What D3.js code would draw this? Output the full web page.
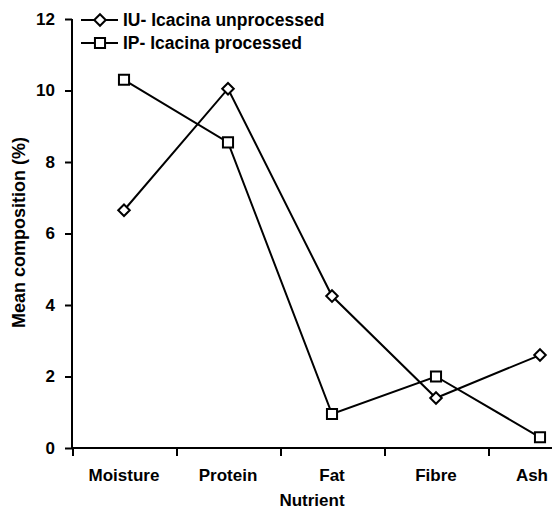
<!DOCTYPE html>
<meta charset="utf-8">
<html>
<head>
	<title>Mean composition by nutrient</title>
	<script type="text/javascript" src="https://cdn.jsdelivr.net/npm/d3@7"></script>
	<style>
		body { margin: 0; background: #fff; }
		text { font-family: "Liberation Sans", Arial, sans-serif; font-weight: bold; fill: #000; }
		.axis path, .axis line { stroke: #000; stroke-width: 2px; }
	</style>
</head>
<body>
	<div id="chart"></div>
	<script>
		// data
		var nutrients = ["Moisture", "Protein", "Fat", "Fibre", "Ash"];
		var unprocessed = [6.65, 10.05, 4.25, 1.4, 2.6];
		var processed = [10.3, 8.55, 0.95, 2.0, 0.3];
		var yTicks = [0, 2, 4, 6, 8, 10, 12];
		var seriesNames = ["IU- Icacina unprocessed", "IP- Icacina processed"];

		var w = 552, h = 510;
		var margin = { left: 72, top: 19, bottom: 62 };

		var svg = d3.select("#chart").append("svg")
			.attr("width", w).attr("height", h);

		// band scale, the last band runs off the right edge like the original
		var x = d3.scaleBand().domain(nutrients).range([margin.left, margin.left + 104 * 5]);
		var y = d3.scaleLinear().domain([0, 12]).range([h - margin.bottom, margin.top]);

		// x axis: ticks at band edges
		var gx = svg.append("g").attr("class", "axis")
			.attr("transform", "translate(0," + y(0) + ")");
		gx.append("line").attr("x1", margin.left - 1).attr("x2", w).attr("y1", 0).attr("y2", 0);
		gx.selectAll(".tk").data(nutrients).enter().append("line")
			.attr("x1", d => x(d) + 1).attr("x2", d => x(d) + 1)
			.attr("y1", 0).attr("y2", 8);
		gx.selectAll(".lbl").data(nutrients).enter().append("text")
			.attr("x", d => x(d) + x.bandwidth() / 2)
			.attr("y", 33)
			.attr("text-anchor", "middle")
			.style("font-size", "17px")
			.text(d => d)
			.each(function () {
				// keep labels inside the picture
				var len = this.getComputedTextLength();
				var cx = +d3.select(this).attr("x");
				if (cx + len / 2 > w - 4) d3.select(this).attr("x", w - 4 - len / 2);
			});

		// y axis
		var yAxis = d3.axisLeft(y).tickValues(yTicks).tickSize(7).tickPadding(10);
		var gy = svg.append("g").attr("class", "axis")
			.attr("transform", "translate(" + margin.left + ",0)")
			.call(yAxis);
		gy.select(".domain").attr("d", "M0," + y(12) + "V" + y(0));
		gy.selectAll("text").style("font-size", "17px").attr("font-family", null);

		svg.append("text")
			.attr("transform", "translate(25," + (y(6) - 1) + ") rotate(-90)")
			.attr("text-anchor", "middle")
			.style("font-size", "18px")
			.text("Mean composition (%)");

		svg.append("text")
			.attr("x", (margin.left + w) / 2)
			.attr("y", h - 4)
			.attr("text-anchor", "middle")
			.style("font-size", "17px")
			.text("Nutrient");

		var line = d3.line()
			.x((d, i) => x(nutrients[i]) + x.bandwidth() / 2)
			.y(d => y(d));

		var diamond = d3.symbol().type(d3.symbolDiamond2).size(85);
		var square = d3.symbol().type(d3.symbolSquare2).size(130);

		function drawSeries(vals, sym) {
			svg.append("path").datum(vals)
				.attr("d", line)
				.attr("fill", "none").attr("stroke", "#000").attr("stroke-width", 2);
			svg.selectAll(null).data(vals).enter().append("path")
				.attr("d", sym)
				.attr("transform", (d, i) => "translate(" + (x(nutrients[i]) + x.bandwidth() / 2) + "," + y(d) + ")")
				.attr("fill", "#fff").attr("stroke", "#000").attr("stroke-width", 2);
		}
		drawSeries(unprocessed, diamond);
		drawSeries(processed, square);

		// legend
		var legend = svg.append("g").attr("transform", "translate(81,20)");
		[diamond, square].forEach(function (sym, i) {
			var g = legend.append("g").attr("transform", "translate(0," + i * 23 + ")");
			g.append("line").attr("x1", 0).attr("x2", 37).attr("y1", 0).attr("y2", 0)
				.attr("stroke", "#000").attr("stroke-width", 2);
			g.append("path").attr("d", sym).attr("transform", "translate(19,0)")
				.attr("fill", "#fff").attr("stroke", "#000").attr("stroke-width", 2);
			g.append("text").attr("x", 42).attr("y", 6)
				.style("font-size", "17.5px")
				.text(seriesNames[i]);
		});
	</script>
</body>
</html>
